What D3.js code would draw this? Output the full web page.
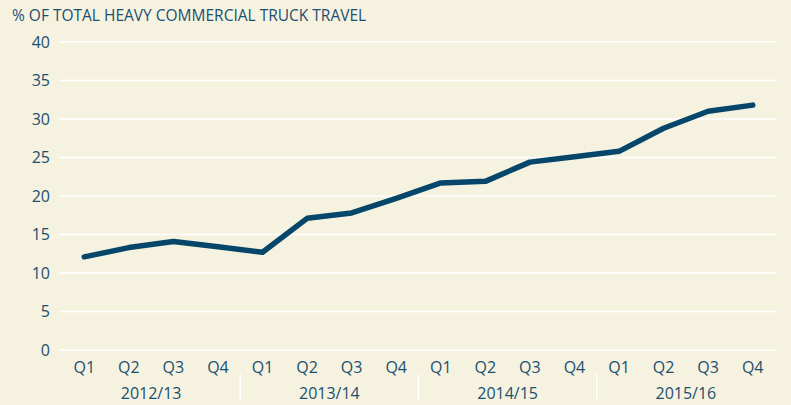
<!DOCTYPE html>
<html>
<head>
<meta charset="utf-8">
<script src="https://cdn.jsdelivr.net/npm/d3@7"></script>
<style>
body { margin: 0; background: #f5f3df; }
text { font-family: "Open Sans", sans-serif; fill: #1c4e71; }
</style>
</head>
<body>
<script>
var years = ["2012/13", "2013/14", "2014/15", "2015/16"];
var quarters = ["Q1", "Q2", "Q3", "Q4"];
var values = [12.1, 13.3, 14.1, 13.4, 12.7, 17.1, 17.8, 19.7, 21.7, 21.9, 24.4, 25.1, 25.8, 28.8, 31.0, 31.8];
var yTicks = [0, 5, 10, 15, 20, 25, 30, 35, 40];

var width = 791, height = 405;
var svg = d3.select("body").append("svg")
	.attr("width", width)
	.attr("height", height);

svg.append("rect").attr("width", width).attr("height", height).attr("fill", "#f5f3df");

// one key per quarter
var keys = [];
years.forEach(function (yr) {
	quarters.forEach(function (q) { keys.push(yr + " " + q); });
});

var x = d3.scaleBand().domain(keys).range([62, 775]);
var y = d3.scaleLinear().domain([0, 40]).range([350, 42]);

// title
svg.append("text")
	.attr("x", 12)
	.attr("y", 21)
	.style("font-size", "15.5px")
	.text("% OF TOTAL HEAVY COMMERCIAL TRUCK TRAVEL");

// grid
svg.append("g").selectAll("line")
	.data(yTicks)
	.enter().append("line")
	.attr("x1", 59).attr("x2", 776)
	.attr("y1", function (d) { return y(d); })
	.attr("y2", function (d) { return y(d); })
	.attr("stroke", "#ffffff")
	.attr("stroke-width", 1.5);

// y labels
svg.append("g").selectAll("text")
	.data(yTicks)
	.enter().append("text")
	.attr("x", 50)
	.attr("y", function (d) { return y(d); })
	.attr("dy", "0.35em")
	.attr("text-anchor", "end")
	.style("font-size", "16px")
	.text(function (d) { return d; });

// quarter labels
svg.append("g").selectAll("text")
	.data(keys)
	.enter().append("text")
	.attr("x", function (d) { return x(d) + x.bandwidth() / 2; })
	.attr("y", 367)
	.attr("dy", "0.35em")
	.attr("text-anchor", "middle")
	.style("font-size", "16px")
	.text(function (d) { return d.split(" ")[1]; });

// year labels
svg.append("g").selectAll("text")
	.data(years)
	.enter().append("text")
	.attr("x", function (d) { return x(d + " Q1") + x.bandwidth() * 2; })
	.attr("y", 393)
	.attr("dy", "0.35em")
	.attr("text-anchor", "middle")
	.style("font-size", "16px")
	.text(function (d) { return d; });

// separators between years
svg.append("g").selectAll("line")
	.data(years.slice(1))
	.enter().append("line")
	.attr("x1", function (d) { return x(d + " Q1"); })
	.attr("x2", function (d) { return x(d + " Q1"); })
	.attr("y1", 374).attr("y2", 401)
	.attr("stroke", "#ffffff")
	.attr("stroke-width", 1.5);

var line = d3.line()
	.x(function (d, i) { return x(keys[i]) + x.bandwidth() / 2; })
	.y(function (d) { return y(d); });

svg.append("path")
	.datum(values)
	.attr("d", line)
	.attr("fill", "none")
	.attr("stroke", "#06466b")
	.attr("stroke-width", 5.5)
	.attr("stroke-linecap", "round")
	.attr("stroke-linejoin", "round");
</script>
</body>
</html>
